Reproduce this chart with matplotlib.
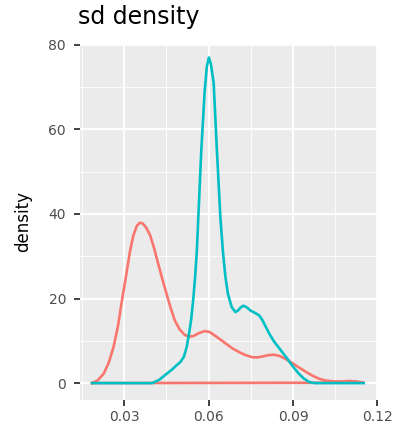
import matplotlib
matplotlib.use("Agg")
import matplotlib.pyplot as plt

# density curves
red_x = [0.0186, 0.0205, 0.0227, 0.0245, 0.0262, 0.0278, 0.0292, 0.0307, 0.0321,
         0.0333, 0.0345, 0.0355, 0.0365, 0.0378, 0.0392, 0.0406, 0.0421, 0.0436,
         0.0451, 0.0466, 0.0480, 0.0497, 0.0515, 0.0530, 0.0545, 0.0565, 0.0586,
         0.0603, 0.0621, 0.0642, 0.0662, 0.0685, 0.0709, 0.0732, 0.0756, 0.0775,
         0.0792, 0.0812, 0.0833, 0.0853, 0.0874, 0.0898, 0.0921, 0.0945, 0.0968,
         0.0990, 0.1015, 0.1045, 0.1074, 0.1100, 0.1125, 0.1151]
red_y = [0.0, 0.6, 2.2, 4.8, 8.5, 13.5, 19.5, 25.5, 31.3,
         35.0, 37.2, 37.9, 37.8, 36.8, 35.0, 32.0, 28.2, 24.5,
         21.0, 17.6, 14.8, 12.7, 11.4, 11.0, 11.1, 11.8, 12.3,
         12.1, 11.3, 10.3, 9.3, 8.2, 7.3, 6.6, 6.1, 6.1,
         6.3, 6.6, 6.7, 6.4, 5.7, 4.7, 3.7, 2.7, 1.8,
         1.1, 0.6, 0.4, 0.4, 0.5, 0.4, 0.1]

teal_x = [0.0186, 0.0400, 0.0425, 0.0451, 0.0470, 0.0486, 0.0500, 0.0512, 0.0522,
          0.0530, 0.0538, 0.0545, 0.0552, 0.0558, 0.0564, 0.0574, 0.0586, 0.0594,
          0.0601, 0.0608, 0.0618, 0.0629, 0.0642, 0.0651, 0.0660, 0.0669, 0.0682,
          0.0695, 0.0705, 0.0714, 0.0724, 0.0736, 0.0748, 0.0765, 0.0780, 0.0792,
          0.0804, 0.0818, 0.0833, 0.0848, 0.0862, 0.0877, 0.0892, 0.0906, 0.0921,
          0.0938, 0.0956, 0.0975, 0.1151]
teal_y = [0.0, 0.0, 0.8, 2.2, 3.2, 4.2, 5.0, 6.2, 8.5,
          11.5, 15.0, 19.5, 25.0, 31.0, 40.0, 55.0, 69.0, 75.0,
          77.0, 75.5, 71.0, 55.7, 39.0, 31.0, 25.0, 21.0, 18.0,
          16.8, 17.2, 17.9, 18.3, 17.9, 17.2, 16.6, 16.0, 14.8,
          13.2, 11.4, 9.8, 8.5, 7.3, 6.0, 4.6, 3.4, 2.2,
          1.1, 0.3, 0.0, 0.0]

x_ticks = [0.03, 0.06, 0.09, 0.12]
x_labels = ["0.03", "0.06", "0.09", "0.12"]
x_minor = [0.015, 0.045, 0.075, 0.105]
y_ticks = [0, 20, 40, 60, 80]
y_minor = [10, 30, 50, 70]

fig = plt.figure(figsize=(3.99, 4.29), dpi=100)
ax = fig.add_axes([80 / 399, 1 - 400 / 429, (378 - 80) / 399, (400 - 44) / 429])
ax.set_facecolor("#EBEBEB")

# grid like ggplot: minor lines thin, major lines thicker
for v in x_minor:
    ax.axvline(v, color="white", lw=0.6, zorder=0)
for v in y_minor:
    ax.axhline(v, color="white", lw=0.6, zorder=0)
for v in x_ticks:
    ax.axvline(v, color="white", lw=1.3, zorder=0)
for v in y_ticks:
    ax.axhline(v, color="white", lw=1.3, zorder=0)

ax.plot(red_x + [red_x[0]], red_y + [0.0], color="#F8766D", lw=1.9,
        solid_joinstyle="round", zorder=2)
ax.plot(teal_x, teal_y, color="#00BFC4", lw=1.9, solid_joinstyle="round", zorder=3)

ax.set_xlim(0.0143, 0.1202)
ax.set_ylim(-4.0, 80.2)
ax.set_xticks(x_ticks)
ax.set_xticklabels(x_labels)
ax.set_yticks(y_ticks)
for s in ax.spines.values():
    s.set_visible(False)
ax.tick_params(axis="both", length=4, width=1.3, color="#333333",
               labelcolor="#4D4D4D", labelsize=10)
ax.tick_params(axis="x", pad=3.5)
ax.tick_params(axis="y", pad=6)

ax.set_ylabel("density", fontsize=12, color="black")
ax.yaxis.set_label_coords(-0.16, 0.5)
fig.text(78 / 399, 1 - 24 / 429, "sd density", fontsize=17, va="baseline", ha="left")

fig.savefig("out.png", dpi=100)
